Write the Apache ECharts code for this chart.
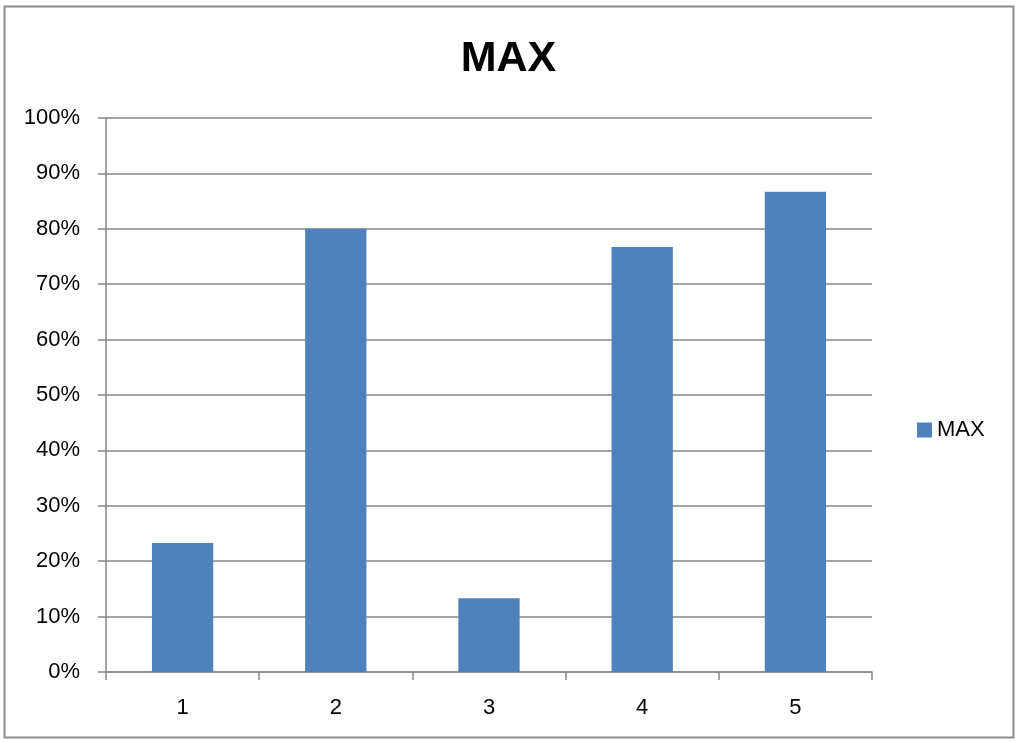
<!DOCTYPE html>
<html>
<head>
<meta charset="utf-8">
<script src="https://cdn.jsdelivr.net/npm/echarts@6/dist/echarts.min.js"></script>
<style>
  html, body { margin: 0; padding: 0; background: #fff; }
  #chart { width: 1017px; height: 742px; }
</style>
</head>
<body>
<div id="chart"></div>
<script>
const categories = ['1', '2', '3', '4', '5'];
const maxValues = [23.3, 80, 13.3, 76.7, 86.7];
const yTicks = [0, 10, 20, 30, 40, 50, 60, 70, 80, 90, 100];

const FONT = '"Liberation Sans", "DejaVu Sans", sans-serif';
const GRID = '#868686';

const chart = echarts.init(document.getElementById('chart'));
chart.setOption({
  animation: false,
  backgroundColor: '#fff',
  title: {
    text: 'MAX',
    left: 'center',
    top: 33,
    textStyle: { fontFamily: FONT, fontSize: 43, fontWeight: 'bold', color: '#000' }
  },
  legend: {
    data: ['MAX'],
    orient: 'vertical',
    left: 912,
    top: 414,
    itemWidth: 15,
    itemHeight: 15,
    itemGap: 6,
    icon: 'rect',
    textStyle: { fontFamily: FONT, fontSize: 22, color: '#000', padding: [0, 0, 0, 0] }
  },
  grid: { left: 106, right: 145, top: 118, bottom: 70, containLabel: false },
  xAxis: {
    type: 'category',
    data: categories,
    boundaryGap: true,
    axisLine: { show: true, lineStyle: { color: GRID, width: 1.5 } },
    axisTick: { show: true, length: 8, lineStyle: { color: GRID, width: 1.5 } },
    axisLabel: { fontFamily: FONT, fontSize: 22, color: '#000', margin: 25 }
  },
  yAxis: {
    type: 'value',
    min: yTicks[0],
    max: yTicks[yTicks.length - 1],
    interval: 10,
    axisLine: { show: true, lineStyle: { color: GRID, width: 1.5 } },
    axisTick: { show: true, length: 8, lineStyle: { color: GRID, width: 1.5 } },
    splitLine: { show: true, lineStyle: { color: GRID, width: 1.5 } },
    axisLabel: { fontFamily: FONT, fontSize: 22, color: '#000', margin: 26, formatter: v => v + '%' }
  },
  series: [{
    name: 'MAX',
    type: 'bar',
    data: maxValues,
    barWidth: '40%',
    itemStyle: { color: '#4F81BD' }
  }],
  graphic: [{
    type: 'rect',
    shape: { x: 4.5, y: 6.5, width: 1009, height: 731 },
    style: { fill: 'none', stroke: '#8c8c8c', lineWidth: 2 },
    silent: true
  }]
});
</script>
</body>
</html>
